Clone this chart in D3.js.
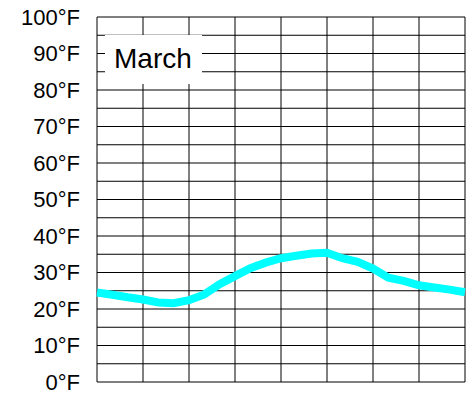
<!DOCTYPE html>
<html><head><meta charset="utf-8">
<script src="https://cdn.jsdelivr.net/npm/d3@7"></script>
<style>body{margin:0;background:#fff}svg{display:block}</style>
</head><body>
<script>
const title = "March";
const hours = [0,1,2,3,4,5,6,7,8,9,10,11,12,13,14,15,16,17,18,19,20,21,22,23,24];
const temps = [24.5,23.9,23.2,22.6,21.8,21.6,22.4,24.0,26.8,29.0,31.2,32.7,33.9,34.6,35.2,35.4,33.9,32.9,31.1,28.6,27.7,26.5,25.9,25.3,24.6];
const yTicks = [0,10,20,30,40,50,60,70,80,90,100];
const yGrid = d3.range(0, 101, 5);
const xGrid = [0,3,6,9,12,15,18,21,24];

const W = 469, H = 395;
const m = {left: 97, right: 4, top: 17, bottom: 13};
const svg = d3.select("body").append("svg").attr("width", W).attr("height", H);
const x = d3.scaleLinear().domain([0, 24]).range([m.left, W - m.right]);
const y = d3.scaleLinear().domain([0, 100]).range([H - m.bottom, m.top]);

const g = svg.append("g");
g.selectAll(".hg").data(yGrid).join("line")
  .attr("x1", x(0)).attr("x2", x(24))
  .attr("y1", d => y(d)).attr("y2", d => y(d))
  .attr("stroke", "#000").attr("stroke-width", 1);
g.selectAll(".vg").data(xGrid).join("line")
  .attr("y1", y(0)).attr("y2", y(100))
  .attr("x1", d => x(d)).attr("x2", d => x(d))
  .attr("stroke", "#000").attr("stroke-width", 1);

const yAxis = d3.axisLeft(y).tickValues(yTicks).tickSize(0).tickPadding(17).tickFormat(d => d + "°F");
const ax = svg.append("g").attr("transform", `translate(${m.left},0)`).call(yAxis);
ax.select(".domain").remove();
ax.selectAll("text").attr("font-family", "'Liberation Sans', Arial, sans-serif").attr("font-size", 22).attr("fill", "#000");

svg.append("path").datum(hours.map((h, i) => [h, temps[i]]))
  .attr("d", d3.line().x(d => x(d[0])).y(d => y(d[1])))
  .attr("fill", "none").attr("stroke", "#00ffff").attr("stroke-width", 8);

svg.append("rect").attr("x", 105).attr("y", 35).attr("width", 97).attr("height", 49).attr("fill", "#fff");
svg.append("text").attr("x", 114).attr("y", 68).text(title)
  .attr("font-family", "'Liberation Sans', Arial, sans-serif").attr("font-size", 28).attr("fill", "#000");
</script>
</body></html>
